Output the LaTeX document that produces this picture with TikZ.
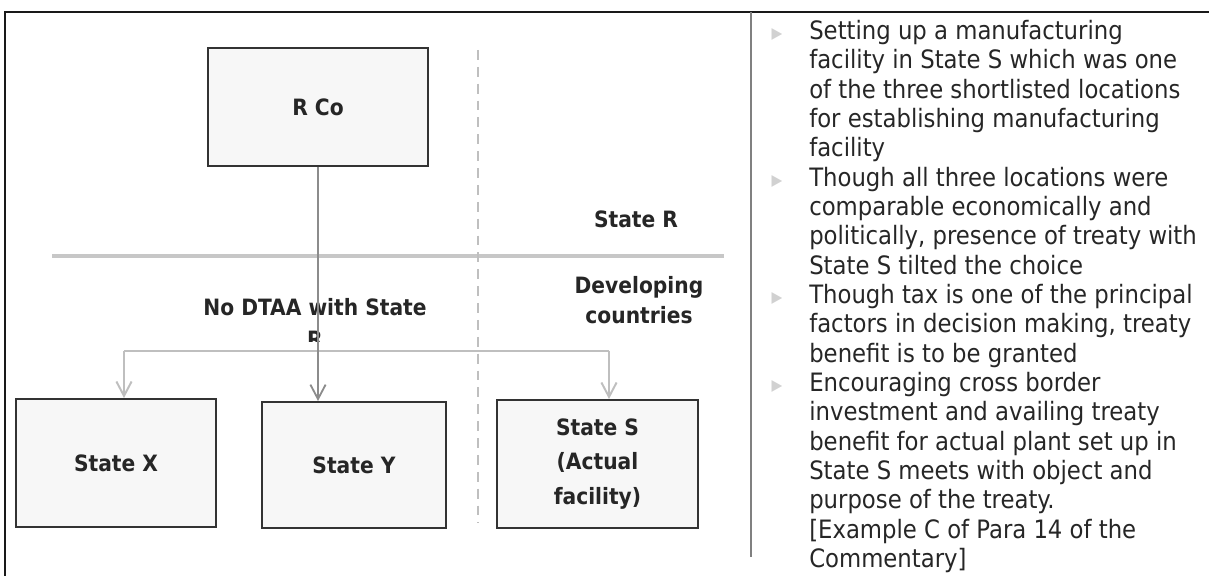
\documentclass[tikz,border=0pt]{standalone}
\usepackage{fontspec}
\setmainfont{DejaVu Sans Condensed}
\usetikzlibrary{arrows.meta,positioning}

\tikzset{
  statebox/.style={draw=black!80,line width=1.4pt,fill=black!3,align=center,
    font=\bfseries\fontsize{16}{24.5}\selectfont,text=black!85},
  lbl/.style={font=\bfseries\fontsize{16}{21}\selectfont,text=black!85,align=center},
  branch/.style={draw=black!25,line width=1.4pt},
  bullet/.style={text=black!18,font=\fontsize{11}{11}\selectfont,inner sep=0pt}
}

\begin{document}
\begin{tikzpicture}[x=0.025cm,y=-0.025cm,>={Straight Barb[length=3.6mm,width=3.8mm]}]
  \useasboundingbox (0,0) rectangle (1209,576);
  % frame
  \draw [black!90,line width=1pt] (4,12) -- (1209,12);
  \draw [black!90,line width=1pt] (5,12) -- (5,576);
  \draw [black!50,line width=1.3pt] (751,12) -- (751,557);

  % regions
  \draw [black!22,line width=2.2pt] (52,256) -- (724,256);
  \draw [black!25,line width=1pt,dash pattern=on 7pt off 5pt] (478,50) -- (478,523);
  \node (stR) at (636,219) [lbl] {State R};
  \node (dev) at (639,300) [lbl] {Developing\\countries};

  % boxes
  \node (rco) at (318,107) [statebox,minimum width=5.5cm,minimum height=2.95cm] {R Co};
  \node (stX) at (116,463) [statebox,minimum width=5cm,minimum height=3.2cm] {State X};
  \node (stY) at (354,465) [statebox,minimum width=4.6cm,minimum height=3.15cm] {State Y};
  \node (stS) at (597.5,464) [statebox,minimum width=5.03cm,minimum height=3.2cm] {State S\\(Actual\\facility)};

  % label cut off by the branch
  \begin{scope}
    \clip (150,285) rectangle (500,342);
    \node (nodtaa) at (315,323) [lbl,font=\bfseries\fontsize{16}{22.5}\selectfont] {No DTAA with State\\R};
  \end{scope}

  % connectors
  \coordinate (bl) at (124,351);
  \coordinate (br) at (609,351);
  \draw [branch] (bl) -- (br);
  \draw [branch,->] (bl) -- (bl |- stX.north);
  \draw [branch,->] (br) -- (br |- stS.north);
  \draw [black!45,line width=1.3pt,->] (rco.south) -- (rco.south |- stY.north);

  % notes
  \foreach \y in {34,181,298,386}
    \node [bullet] at (777,\y) {▶};
  \node (notes) at (809,20) [anchor=north west,inner sep=0pt,align=left,text=black!85,
    font=\fontsize{18}{20.86}\selectfont] {Setting up a manufacturing\\
facility in State S which was one\\
of the three shortlisted locations\\
for establishing manufacturing\\
facility\\
Though all three locations were\\
comparable economically and\\
politically, presence of treaty with\\
State S tilted the choice\\
Though tax is one of the principal\\
factors in decision making, treaty\\
benefit is to be granted\\
Encouraging cross border\\
investment and availing treaty\\
benefit for actual plant set up in\\
State S meets with object and\\
purpose of the treaty.\\
{[}Example C of Para 14 of the\\
Commentary]};
\end{tikzpicture}
\end{document}
